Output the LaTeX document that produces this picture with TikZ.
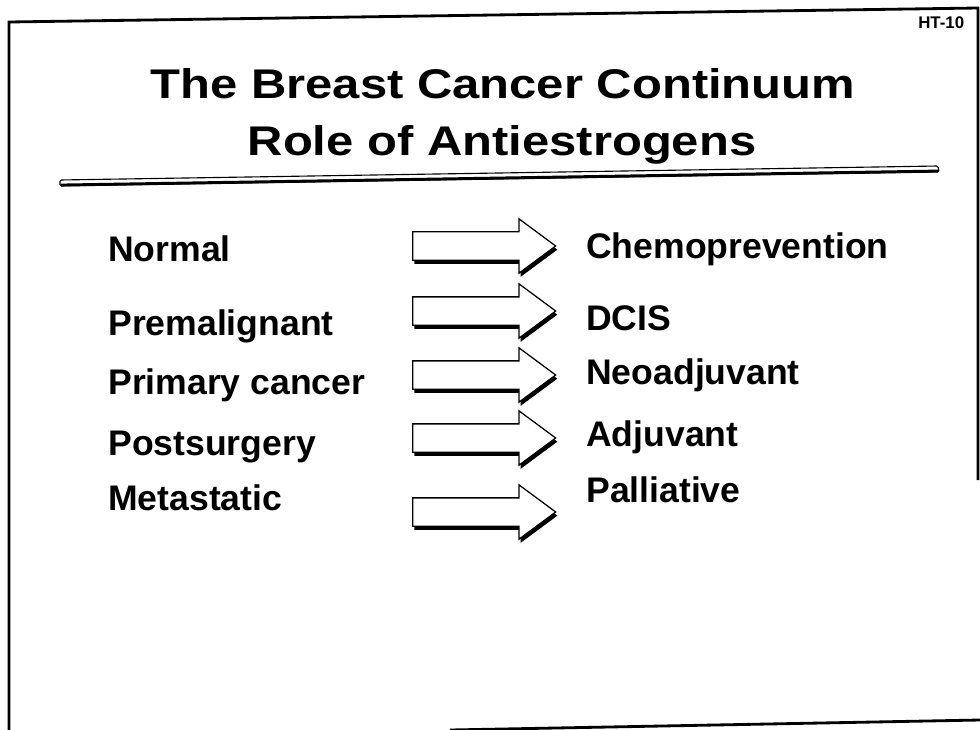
\documentclass[tikz,border=0pt]{standalone}
\usepackage{fontspec}
\setmainfont{Liberation Sans}
\newfontfamily\titlefont{Liberation Sans}[FakeStretch=1.18]
\usetikzlibrary{shapes.arrows, shadows, positioning}

\begin{document}
\begin{tikzpicture}[
    x=0.025cm, y=-0.025cm,
    titleline/.style={font=\titlefont\fontsize{29.5}{35}\selectfont\bfseries,
                      anchor=base, inner sep=0pt},
    stage/.style={font=\fontsize{25.3}{30}\selectfont\bfseries,
                  anchor=base west, inner sep=0pt},
    therapy/.style={stage},
    blockarrow/.style={single arrow, draw=black, line width=0.9pt, fill=white,
                       inner xsep=0pt, inner ysep=0.3375cm,
                       minimum height=3.575cm, single arrow head extend=0.325cm,
                       single arrow tip angle=73, anchor=tail,
                       drop shadow={shadow xshift=1.2pt, shadow yshift=-2.6pt,
                                    fill=black, opacity=1}},
    frameline/.style={line width=2pt, black}
]
\useasboundingbox (0,0) rectangle (980,730);

% Frame
\draw[frameline] (9,730) -- (9,22) -- (978,8) -- (978,480);
\draw[frameline] (450,730) -- (980,720);
\node[font=\fontsize{12}{14}\selectfont\bfseries, anchor=base west, inner sep=0pt]
    (tag) at (918,28) {HT-10};

% Title
\node[titleline] (titleA) at (503,98)  {The Breast Cancer Continuum};
\node[titleline] (titleB) at (502,155) {Role of Antiestrogens};
\draw[line width=0.8pt, rounded corners=1pt]
    (60,180) -- (938,166) -- (939,172) -- (60,186) -- cycle;
\draw[line width=2pt] (61,185) -- (938,171);

% Column 1 : stages
\node[stage] (normal)   at (108,261) {Normal};
\node[stage] (premal)   at (108,335) {Premalignant};
\node[stage] (primary)  at (108,394) {Primary cancer};
\node[stage] (postsurg) at (108,455) {Postsurgery};
\node[stage] (metast)   at (108,510) {Metastatic};

% Column 2 : block arrows
\foreach \y [count=\i] in {246,311,375,438,512}
    \node[blockarrow] (arr\i) at (412,\y) {};

% Column 3 : therapies
\node[therapy] (chemo)  at (586,258) {Chemoprevention};
\node[therapy] (dcis)   at (586,330) {DCIS};
\node[therapy] (neoadj) at (586,384) {Neoadjuvant};
\node[therapy] (adj)    at (586,446) {Adjuvant};
\node[therapy] (pall)   at (586,502) {Palliative};

\end{tikzpicture}
\end{document}
